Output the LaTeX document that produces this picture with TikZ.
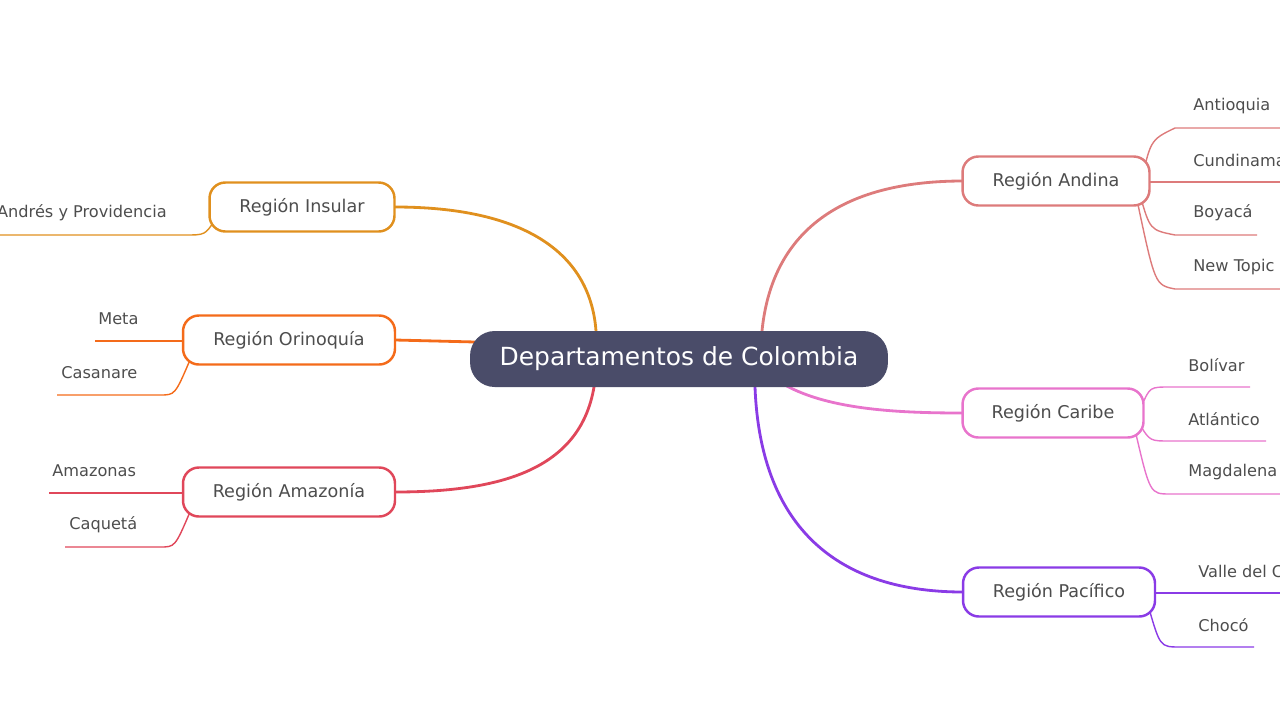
\documentclass[tikz,border=0pt]{standalone}
\usepackage{fontspec}
\setmainfont{DejaVu Sans}
\usepackage{tikz}
\usetikzlibrary{positioning, calc}

\definecolor{cCentro}{HTML}{4A4C69}
\definecolor{cAndina}{HTML}{DD7B7B}
\definecolor{cCaribe}{HTML}{E874CC}
\definecolor{cPacifico}{HTML}{8A3BE6}
\definecolor{cInsular}{HTML}{E0901E}
\definecolor{cOrino}{HTML}{F46B1A}
\definecolor{cAmazon}{HTML}{E0475A}
\definecolor{cTexto}{HTML}{4D4D4D}

\tikzset{
  region/.style={draw, line width=1.4pt, rounded corners=9pt, fill=white,
    minimum height=0.98cm, inner xsep=0pt, font=\fontsize{10}{12}\selectfont, text=cTexto},
  hoja/.style={anchor=west, inner sep=0pt, font=\fontsize{9.2}{11}\selectfont, text=cTexto},
  rama/.style={line width=1.6pt},
  tallo/.style={line width=0.8pt}
}

\begin{document}
\begin{tikzpicture}[x=0.02cm, y=-0.02cm]
  \useasboundingbox (0,0) rectangle (1280,720);
  \clip (0,0) rectangle (1280,720);

  % ramas
  \coordinate (rInsular) at (596,331);
  \coordinate (rOrino) at (475,342);
  \coordinate (rAmazon) at (594,387);
  \coordinate (rAndina) at (762,331);
  \coordinate (rCaribe) at (785,385);
  \coordinate (rPacifico) at (755,387);
  \coordinate (insularE) at (395,207);
  \coordinate (orinoE) at (395,340);
  \coordinate (amazonE) at (395,492);
  \coordinate (andinaW) at (963,181);
  \coordinate (caribeW) at (963,413);
  \coordinate (pacificoW) at (963,592);
  \draw[rama, cInsular] (rInsular) .. controls (590,250) and (520,207) .. (insularE);
  \draw[rama, cOrino] (rOrino) -- (orinoE);
  \draw[rama, cAmazon] (rAmazon) .. controls (580,470) and (500,492) .. (amazonE);
  \draw[rama, cAndina] (rAndina) .. controls (770,250) and (820,181) .. (andinaW);
  \draw[rama, cCaribe] (rCaribe) .. controls (830,410) and (900,413) .. (caribeW);
  \draw[rama, cPacifico] (rPacifico) .. controls (760,520) and (830,592) .. (pacificoW);

  % nodo central
  \node[fill=cCentro, rounded corners=14pt, minimum width=8.36cm, minimum height=1.12cm,
        text=white, font=\fontsize{14.2}{17}\selectfont] (centro) at (679,359) {Departamentos de Colombia};

  % Andina
  \coordinate (antio) at (1175,128); \coordinate (antioE) at (1290,128);
  \coordinate (cundi) at (1150,182); \coordinate (cundiE) at (1290,182);
  \coordinate (boya) at (1175,235); \coordinate (boyaE) at (1257,235);
  \coordinate (nuevo) at (1175,289); \coordinate (nuevoE) at (1290,289);
  \draw[tallo, cAndina] (1140,190) .. controls (1150,140) .. (antio) -- (antioE);
  \draw[tallo, cAndina] (cundi) -- (cundiE);
  \draw[tallo, cAndina] (1140,195) .. controls (1150,230) .. (boya) -- (boyaE);
  \draw[tallo, cAndina] (1137,200) .. controls (1155,285) .. (nuevo) -- (nuevoE);
  \node[hoja] (tAntio) at (1193,106) {Antioquia};
  \node[hoja] (tCundi) at (1193,160) {Cundinamarca};
  \node[hoja] (tBoya) at (1193,213) {Boyacá};
  \node[hoja] (tNuevo) at (1193,267) {New Topic};

  % Caribe
  \coordinate (boli) at (1170,387); \coordinate (boliE) at (1250,387);
  \coordinate (atla) at (1170,441); \coordinate (atlaE) at (1266,441);
  \coordinate (magda) at (1170,494); \coordinate (magdaE) at (1290,494);
  \draw[tallo, cCaribe] (1142,405) .. controls (1150,387) .. (boli) -- (boliE);
  \draw[tallo, cCaribe] (1140,425) .. controls (1150,441) .. (atla) -- (atlaE);
  \draw[tallo, cCaribe] (1135,430) .. controls (1150,494) .. (magda) -- (magdaE);
  \node[hoja] (tBoli) at (1188,365) {Bolívar};
  \node[hoja] (tAtla) at (1188,419) {Atlántico};
  \node[hoja] (tMagda) at (1188,472) {Magdalena};

  % Pacifico
  \coordinate (valle) at (1155,593); \coordinate (valleE) at (1290,593);
  \coordinate (choco) at (1180,647); \coordinate (chocoE) at (1254,647);
  \draw[tallo, cPacifico] (valle) -- (valleE);
  \draw[tallo, cPacifico] (1148,605) .. controls (1160,647) .. (choco) -- (chocoE);
  \node[hoja] (tValle) at (1198,571) {Valle del Cauca};
  \node[hoja] (tChoco) at (1198,625) {Chocó};

  % Insular
  \coordinate (sanA) at (185,235); \coordinate (sanAE) at (-10,235);
  \draw[tallo, cInsular] (215,220) .. controls (205,235) .. (sanA) -- (sanAE);
  \node[hoja, anchor=east] (tSanA) at (167,213) {San Andrés y Providencia};

  % Orinoquia
  \coordinate (meta) at (183,341); \coordinate (metaE) at (95,341);
  \coordinate (casa) at (160,395); \coordinate (casaE) at (57,395);
  \draw[tallo, cOrino] (meta) -- (metaE);
  \draw[tallo, cOrino] (190,360) .. controls (175,395) .. (casa) -- (casaE);
  \node[hoja] (tMeta) at (98,319) {Meta};
  \node[hoja] (tCasa) at (61,373) {Casanare};

  % Amazonia
  \coordinate (amaz) at (183,493); \coordinate (amazE) at (49,493);
  \coordinate (caque) at (160,547); \coordinate (caqueE) at (65,547);
  \draw[tallo, cAmazon] (amaz) -- (amazE);
  \draw[tallo, cAmazon] (190,512) .. controls (175,547) .. (caque) -- (caqueE);
  \node[hoja] (tAmaz) at (52,471) {Amazonas};
  \node[hoja] (tCaque) at (69,525) {Caquetá};

  % regiones
  \node[region, draw=cInsular, minimum width=3.7cm] (insular) at (302,207) {Región Insular};
  \node[region, draw=cOrino, minimum width=4.24cm] (orino) at (289,340) {Región Orinoquía};
  \node[region, draw=cAmazon, minimum width=4.24cm] (amazon) at (289,492) {Región Amazonía};
  \node[region, draw=cAndina, minimum width=3.74cm] (andina) at (1056,181) {Región Andina};
  \node[region, draw=cCaribe, minimum width=3.62cm] (caribe) at (1053,413) {Región Caribe};
  \node[region, draw=cPacifico, minimum width=3.84cm] (pacifico) at (1059,592) {Región Pacífico};
\end{tikzpicture}
\end{document}
